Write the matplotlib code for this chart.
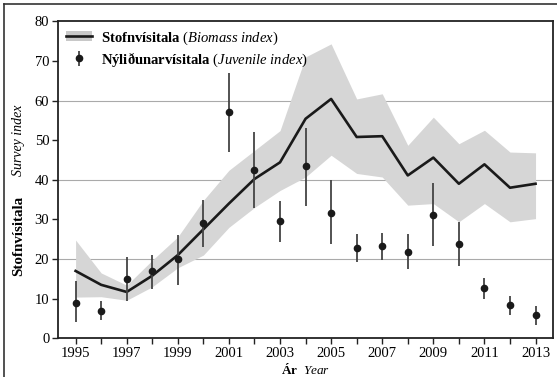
import matplotlib
matplotlib.use("Agg")
import matplotlib.pyplot as plt
from matplotlib.lines import Line2D
from matplotlib.patches import Patch

years = list(range(1995, 2014))
biomass = [17.0, 13.5, 11.7, 15.8, 21.0, 27.5, 34.0, 40.2, 44.4, 55.4, 60.4, 50.8, 51.0, 41.1, 45.6, 39.0, 43.9, 38.0, 39.0]
biomass_upper = [24.8, 16.5, 13.4, 19.7, 25.6, 34.8, 42.4, 47.4, 52.4, 71.0, 74.3, 60.4, 61.7, 48.7, 55.8, 49.1, 52.5, 47.0, 46.8]
biomass_lower = [10.4, 10.5, 9.6, 13.0, 17.8, 21.0, 28.0, 33.0, 37.3, 40.7, 46.2, 41.6, 40.7, 33.6, 34.0, 29.4, 34.0, 29.4, 30.2]

juvenile = [9.0, 7.0, 15.0, 17.0, 20.0, 29.0, 57.0, 42.5, 29.6, 43.5, 31.7, 22.7, 23.2, 21.9, 31.2, 23.9, 12.6, 8.4, 5.8]
juv_upper = [14.5, 9.5, 20.5, 21.0, 26.0, 35.0, 67.0, 52.0, 34.7, 53.0, 40.0, 26.3, 26.7, 26.2, 39.2, 29.4, 15.1, 10.7, 8.1]
juv_lower = [4.0, 4.5, 9.5, 12.5, 13.5, 23.0, 47.0, 33.0, 24.3, 33.5, 23.7, 19.3, 19.7, 17.6, 23.3, 18.3, 9.8, 5.9, 3.4]

x_tick_labels = [str(y) if y % 2 == 1 else "" for y in years]
y_ticks = [0, 10, 20, 30, 40, 50, 60, 70, 80]

plt.rcParams['font.family'] = ['Liberation Serif', 'DejaVu Serif']
plt.rcParams['mathtext.fontset'] = 'custom'
plt.rcParams['mathtext.rm'] = 'Liberation Serif'
plt.rcParams['mathtext.it'] = 'Liberation Serif:italic'
plt.rcParams['mathtext.bf'] = 'Liberation Serif:bold'

fig = plt.figure(figsize=(5.57, 3.77), dpi=100)
ax = fig.add_axes([0.1036, 0.1026, 0.890, 0.841])

# figure frame (top & left)
fig.add_artist(Line2D([0.007, 0.007], [0.0, 0.99], transform=fig.transFigure, color='#333333', lw=1.2))
fig.add_artist(Line2D([0.007, 1.0], [0.99, 0.99], transform=fig.transFigure, color='#333333', lw=1.2))

ax.fill_between(years, biomass_lower, biomass_upper, color='#d6d6d6', lw=0, zorder=1)
ax.plot(years, biomass, color='#1a1a1a', lw=1.9, zorder=3)

yerr = [[j - l for j, l in zip(juvenile, juv_lower)], [u - j for j, u in zip(juvenile, juv_upper)]]
eb = ax.errorbar(years, juvenile, yerr=yerr, fmt='o', color='#1a1a1a', ecolor='#444444',
                 elinewidth=1.3, markersize=4.5, capsize=0, zorder=4)

for g in [20, 40, 60]:
    ax.axhline(g, color='#aaaaaa', lw=0.8, zorder=0)

ax.set_xlim(1994.3, 2013.7)
ax.set_ylim(0, 80)
ax.set_xticks(years)
ax.set_xticklabels(x_tick_labels)
ax.set_yticks(y_ticks)
ax.tick_params(axis='both', direction='out', length=4, width=1.0, color='#222222', labelsize=10.5, pad=2)
for s in ax.spines.values():
    s.set_linewidth(1.3)
    s.set_color('#222222')

# y label (two parts)
fig.text(0.033, 1 - 236 / 377, "Stofnvísitala", rotation=90, fontsize=10.8, fontweight='bold',
         ha='center', va='center')
fig.text(0.033, 1 - 140 / 377, "Survey index", rotation=90, fontsize=10, fontstyle='italic',
         ha='center', va='center')

ax.set_xlabel(r"$\mathbf{Ár}$  $\mathit{Year}$", fontsize=9.5, labelpad=2)

h1 = (Patch(facecolor='#c8c8c8', edgecolor='none'), Line2D([], [], color='#1a1a1a', lw=1.9))
leg = ax.legend([h1, eb],
                [r"$\mathbf{Stofnvísitala}$ $\mathit{(Biomass\ index)}$",
                 r"$\mathbf{Nýliðunarvísitala}$ $\mathit{(Juvenile\ index)}$"],
                loc='upper left', frameon=False, fontsize=10.5, handlelength=1.8,
                borderaxespad=0.15, labelspacing=0.25, handletextpad=0.6)

fig.savefig("out.png", dpi=100)
